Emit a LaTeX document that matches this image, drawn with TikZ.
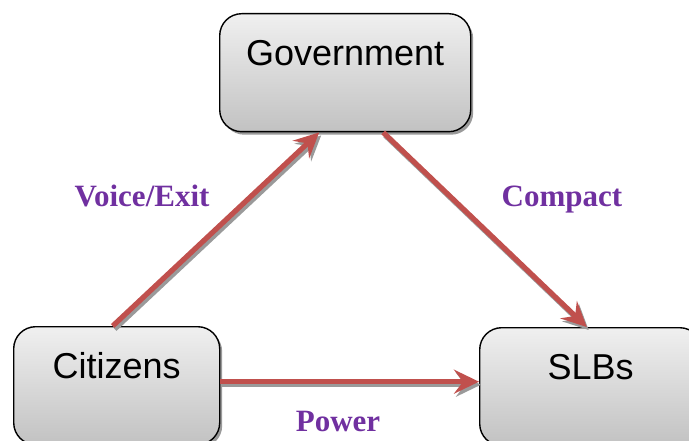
\documentclass[tikz,border=0pt]{standalone}
\usepackage{fontspec}
\setmainfont{Liberation Serif}
\setsansfont{Liberation Sans}
\usetikzlibrary{shadows,arrows.meta,calc}
\definecolor{arrowred}{HTML}{C0504D}
\definecolor{lblpurple}{HTML}{7030A0}
\definecolor{shadowgray}{HTML}{9A9A9A}
\tikzset{
  box/.style={draw=black, line width=1.4pt, rounded corners=22pt,
    top color=gray!12, bottom color=gray!48,
    minimum width=#1, inner sep=0pt, text height=52pt, text depth=66pt,
    font=\sffamily\fontsize{36}{40}\selectfont,
    drop shadow={shadow xshift=2.5pt, shadow yshift=-3pt, fill=shadowgray, opacity=1}},
  flow/.style={draw=arrowred, line width=5.2pt,
    -{Stealth[length=25pt,width=24pt,inset=9pt]}},
  flowshadow/.style={draw=shadowgray, line width=5.2pt,
    -{Stealth[length=25pt,width=24pt,inset=9pt]}, transform canvas={xshift=2pt,yshift=-3pt}},
  lbl/.style={text=lblpurple, font=\rmfamily\bfseries\fontsize{31}{34}\selectfont, inner sep=0pt, anchor=base}
}
\begin{document}
\begin{tikzpicture}[x=1pt,y=-1pt]
\path[use as bounding box, clip] (0,0) rectangle (689,441);
\node[box=251pt, anchor=north west] (gov) at (219,13) {Government};
\node[box=206pt, anchor=north west] (cit) at (13,326) {Citizens};
\node[box=222pt, anchor=north west] (slb) at (479,327) {SLBs};
% shadows of arrows
\draw[flowshadow] ([xshift=-4pt]cit.north) -- ([xshift=-26pt]gov.south);
\draw[flowshadow] ([xshift=38pt]gov.south) -- ([xshift=-4pt]slb.north);
\draw[flowshadow] ([yshift=4pt]cit.east) -- ([yshift=5pt]slb.west);
% arrows
\draw[flow] ([xshift=-4pt]cit.north) -- ([xshift=-26pt]gov.south);
\draw[flow] ([xshift=38pt]gov.south) -- ([xshift=-4pt]slb.north);
\draw[flow] ([yshift=4pt]cit.east) -- ([yshift=5pt]slb.west);
% labels
\node[lbl] (lv) at (142,207) {Voice/Exit};
\node[lbl] (lc) at (562,207) {Compact};
\node[lbl] (lp) at (338,431) {Power};
\end{tikzpicture}
\end{document}
